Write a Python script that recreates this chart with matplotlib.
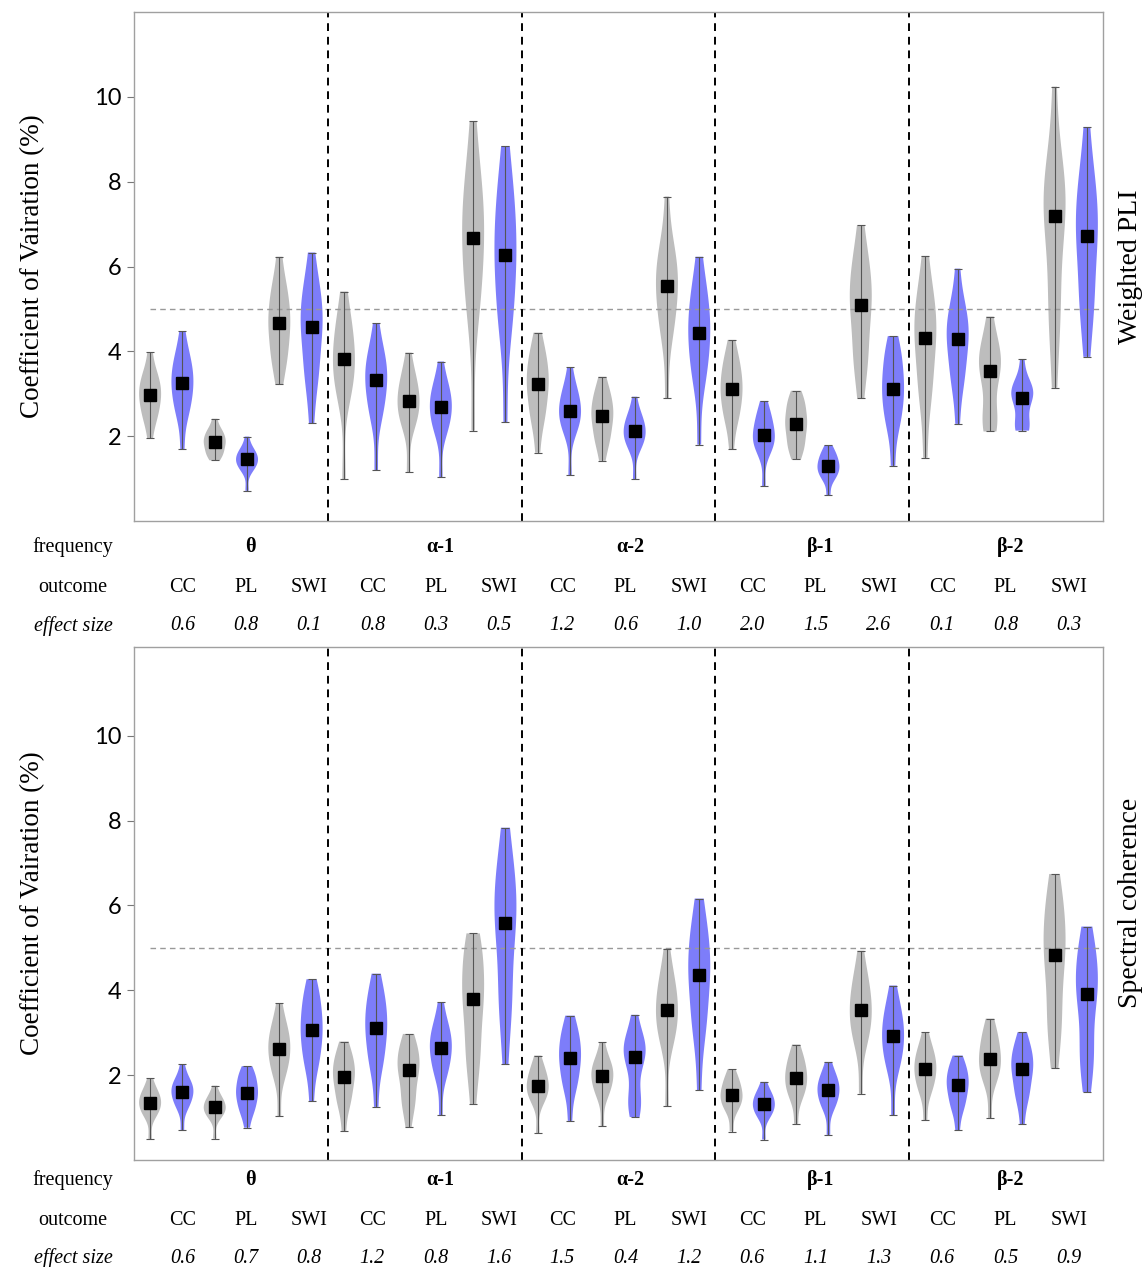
import matplotlib.pyplot as plt
import numpy as np

# 30 violins per panel: band -> outcome (CC, PL, SWI) -> group (grey, blue)
bands = ['θ', 'α-1', 'α-2', 'β-1', 'β-2']
outcomes = ['CC', 'PL', 'SWI']

# ---- Weighted PLI (top) ----
wpli_med = [2.97, 3.25, 1.86, 1.45, 4.67, 4.57, 3.81, 3.32, 2.83, 2.69, 6.68, 6.27,
            3.22, 2.60, 2.48, 2.11, 5.54, 4.44, 3.11, 2.03, 2.29, 1.29, 5.09, 3.12,
            4.32, 4.29, 3.53, 2.91, 7.19, 6.73]
wpli_lo = [1.95, 1.69, 1.43, 0.71, 3.22, 2.31, 0.98, 1.20, 1.15, 1.03, 2.13, 2.33,
           1.61, 1.08, 1.42, 0.98, 2.90, 1.80, 1.69, 0.82, 1.45, 0.61, 2.90, 1.30,
           1.49, 2.29, 2.11, 2.13, 3.14, 3.87]
wpli_hi = [3.98, 4.47, 2.41, 1.99, 6.23, 6.33, 5.41, 4.66, 3.97, 3.76, 9.42, 8.84,
           4.44, 3.63, 3.40, 2.93, 7.65, 6.23, 4.27, 2.83, 3.07, 1.78, 6.97, 4.36,
           6.25, 5.95, 4.82, 3.82, 10.24, 9.29]
wpli_q1 = [2.5, 2.65, 1.6, 1.25, 3.9, 3.5, 3.1, 2.6, 2.35, 2.2, 5.2, 4.8,
           2.5, 2.2, 1.95, 1.8, 4.6, 3.5, 2.5, 1.7, 1.8, 1.05, 3.9, 2.4,
           3.1, 3.4, 2.4, 2.25, 5.0, 5.2]
wpli_q3 = [3.4, 3.8, 2.1, 1.65, 5.4, 5.4, 4.6, 3.9, 3.35, 3.15, 7.9, 7.6,
           3.85, 3.05, 2.95, 2.45, 6.3, 5.3, 3.7, 2.45, 2.75, 1.55, 6.0, 3.85,
           5.2, 4.95, 4.1, 3.2, 8.1, 7.9]
wpli_effect = ['0.6', '0.8', '0.1', '0.8', '0.3', '0.5', '1.2', '0.6', '1.0',
               '2.0', '1.5', '2.6', '0.1', '0.8', '0.3']

# ---- Spectral coherence (bottom) ----
coh_med = [1.35, 1.60, 1.24, 1.58, 2.62, 3.06, 1.96, 3.12, 2.11, 2.64, 3.79, 5.58,
           1.75, 2.41, 1.98, 2.43, 3.53, 4.36, 1.53, 1.31, 1.94, 1.64, 3.53, 2.91,
           2.14, 1.76, 2.39, 2.14, 4.82, 3.91]
coh_lo = [0.49, 0.70, 0.50, 0.76, 1.03, 1.38, 0.68, 1.25, 0.77, 1.05, 1.32, 2.25,
          0.63, 0.92, 0.80, 1.01, 1.27, 1.64, 0.67, 0.48, 0.85, 0.59, 1.56, 1.05,
          0.93, 0.70, 0.98, 0.84, 2.16, 1.60]
coh_hi = [1.92, 2.25, 1.75, 2.21, 3.69, 4.26, 2.79, 4.39, 2.97, 3.72, 5.34, 7.83,
          2.46, 3.40, 2.77, 3.42, 4.98, 6.16, 2.14, 1.84, 2.72, 2.31, 4.93, 4.11,
          3.01, 2.46, 3.33, 3.01, 6.74, 5.50]
coh_q1 = [1.1, 1.3, 1.05, 1.2, 2.1, 2.35, 1.4, 2.35, 1.4, 2.1, 2.5, 3.8,
          1.45, 1.8, 1.6, 1.4, 2.9, 3.2, 1.25, 1.07, 1.55, 1.3, 2.9, 2.3,
          1.7, 1.3, 1.95, 1.55, 3.3, 2.5]
coh_q3 = [1.6, 1.85, 1.45, 1.95, 3.1, 3.75, 2.4, 3.8, 2.6, 3.1, 4.8, 6.7,
          2.1, 2.95, 2.3, 2.8, 4.2, 5.3, 1.85, 1.55, 2.35, 1.95, 4.2, 3.5,
          2.55, 2.15, 2.9, 2.6, 5.9, 4.8]
coh_effect = ['0.6', '0.7', '0.8', '1.2', '0.8', '1.6', '1.5', '0.4', '1.2',
              '0.6', '1.1', '1.3', '0.6', '0.5', '0.9']

GREY = '#bdbdbd'
BLUE = '#7d7dfa'
SERIF = 'Liberation Serif'

fig = plt.figure(figsize=(11.46, 12.67), dpi=100)
ax_top = fig.add_axes([0.1169, 0.5888, 0.8456, 0.4017])
ax_bot = fig.add_axes([0.1169, 0.0845, 0.8456, 0.4052])


def panel(ax, med, lo, hi, q1, q3, effect, side_label, ytop, rows_y):
    pos = np.arange(len(med))
    # each violin from its summary values (whisker, body, median)
    samples = [[lo[i]] + [q1[i]] * 3 + [med[i]] * 4 + [q3[i]] * 3 + [hi[i]]
               for i in range(len(med))]
    vp = ax.violinplot(samples, positions=pos, widths=0.68, showextrema=False,
                       bw_method=0.55, points=200)
    for i, body in enumerate(vp['bodies']):
        body.set_facecolor(GREY if i % 2 == 0 else BLUE)
        body.set_edgecolor('none')
        body.set_alpha(1)
    med = np.array(med)
    ax.errorbar(pos, med, yerr=[med - np.array(lo), np.array(hi) - med],
                fmt='none', ecolor='#555555', elinewidth=0.8, capsize=3,
                capthick=0.8, zorder=3)
    ax.plot(pos, med, 's', color='black', ms=8, zorder=4)

    ax.hlines(5, 0, 29.5, colors='#999999', linestyles=(0, (4, 3)), lw=1, zorder=1)
    for xv in [5.5, 11.5, 17.5, 23.5]:
        ax.axvline(xv, color='black', ls=(0, (4, 3)), lw=1.4, zorder=2)

    ax.set_xlim(-0.5, 29.5)
    ax.set_ylim(0, ytop)
    ax.set_xticks([])
    ax.set_yticks([2, 4, 6, 8, 10])
    ax.tick_params(axis='y', labelsize=17, length=5, color='#777777', pad=4)
    for lab in ax.get_yticklabels():
        lab.set_family('Lato')
    for sp in ax.spines.values():
        sp.set_color('#a0a0a0')
        sp.set_linewidth(1)
    ax.set_ylabel('Coefficient of Vairation (%)', family=SERIF, fontsize=19.5,
                  labelpad=35)
    ax.text(1.028, 0.5, side_label, transform=ax.transAxes, rotation=90,
            ha='center', va='center', family=SERIF, fontsize=20)

    # table under the axes
    tr = ax.get_xaxis_transform()
    for txt, yy, st in zip(['frequency', 'outcome', 'effect size'], rows_y,
                           ['normal', 'normal', 'italic']):
        ax.text(-0.063, yy, txt, transform=ax.transAxes, ha='center', va='center',
                family=SERIF, fontsize=14.5, style=st)
    col_x = [1.0 + 1.96 * k for k in range(15)]
    for b, name in enumerate(bands):
        ax.text(col_x[3 * b + 1] + 0.15, rows_y[0], name, transform=tr, ha='center',
                va='center', family=SERIF, fontsize=14.5, weight='bold')
    for k in range(15):
        ax.text(col_x[k], rows_y[1], outcomes[k % 3], transform=tr, ha='center',
                va='center', family=SERIF, fontsize=14.5)
        ax.text(col_x[k], rows_y[2], effect[k], transform=tr, ha='center',
                va='center', family=SERIF, fontsize=14.5, style='italic')


panel(ax_top, wpli_med, wpli_lo, wpli_hi, wpli_q1, wpli_q3, wpli_effect,
      'Weighted PLI', 12, [-0.051, -0.130, -0.206])
panel(ax_bot, coh_med, coh_lo, coh_hi, coh_q1, coh_q3, coh_effect,
      'Spectral coherence', 12.1, [-0.039, -0.117, -0.192])

fig.savefig('out.png', dpi=100)
